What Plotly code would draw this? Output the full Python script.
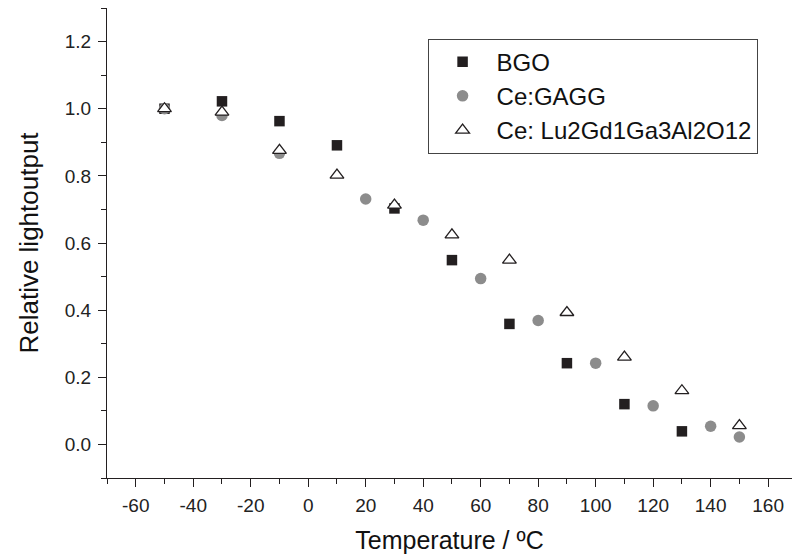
import plotly.graph_objects as go

# Data
bgo_temp = [-50, -30, -10, 10, 30, 50, 70, 90, 110, 130]
bgo_light = [1.00, 1.022, 0.963, 0.891, 0.703, 0.549, 0.359, 0.242, 0.120, 0.039]

gagg_temp = [-50, -30, -10, 20, 40, 60, 80, 100, 120, 140, 150]
gagg_light = [1.00, 0.980, 0.867, 0.731, 0.668, 0.494, 0.369, 0.242, 0.115, 0.054, 0.022]

lu_temp = [-50, -30, -10, 10, 30, 50, 70, 90, 110, 130, 150]
lu_light = [1.000, 0.990, 0.876, 0.802, 0.713, 0.624, 0.549, 0.393, 0.260, 0.160, 0.056]

x_ticks = [-60, -40, -20, 0, 20, 40, 60, 80, 100, 120, 140, 160]
y_ticks = [0.0, 0.2, 0.4, 0.6, 0.8, 1.0, 1.2]

FONT = "Arial, Liberation Sans, sans-serif"
DARK = "#231f20"

fig = go.Figure()
fig.add_trace(go.Scatter(
    x=bgo_temp, y=bgo_light, mode="markers", name="BGO",
    marker=dict(symbol="square", size=10.5, color=DARK, line=dict(width=0)),
))
fig.add_trace(go.Scatter(
    x=gagg_temp, y=gagg_light, mode="markers", name="Ce:GAGG",
    marker=dict(symbol="circle", size=11.5, color="#8c8c8c", line=dict(width=0)),
))
fig.add_trace(go.Scatter(
    x=lu_temp, y=lu_light, mode="markers", name="Ce: Lu2Gd1Ga3Al2O12",
    marker=dict(symbol="triangle-up", size=12, color="white", line=dict(width=1.3, color=DARK)),
))

axis_common = dict(
    showline=True, linecolor=DARK, linewidth=1.3, showgrid=False, zeroline=False,
    ticks="outside", ticklen=8, tickwidth=1.3, tickcolor=DARK,
    tickfont=dict(family=FONT, size=19, color="#222222"),
    mirror=False,
)

fig.update_xaxes(
    range=[-70, 168.3], tickvals=x_ticks, ticktext=[str(v) for v in x_ticks],
    minor=dict(dtick=10, tick0=0, ticks="outside", ticklen=5, tickwidth=1.3, tickcolor=DARK),
    title=dict(text="Temperature / ºC", font=dict(family=FONT, size=25, color="#111111"), standoff=16),
    ticklabelstandoff=2,
    **axis_common,
)
fig.update_yaxes(
    range=[-0.1, 1.3], tickvals=y_ticks, ticktext=[f"{v:.1f}" for v in y_ticks],
    minor=dict(dtick=0.1, tick0=0, ticks="outside", ticklen=5, tickwidth=1.3, tickcolor=DARK),
    title=dict(text="Relative lightoutput", font=dict(family=FONT, size=26, color="#111111"), standoff=18),
    ticklabelstandoff=3,
    **axis_common,
)

fig.update_layout(
    width=792, height=554,
    margin=dict(l=107, r=0, t=8, b=76),
    paper_bgcolor="white", plot_bgcolor="white",
    showlegend=True,
    legend=dict(
        x=0.468, y=0.935, xanchor="left", yanchor="top",
        bordercolor="#444444", borderwidth=1, bgcolor="white",
        font=dict(family=FONT, size=24, color="#111111"),
        itemwidth=58,
    ),
)

fig.write_html("out.html")
